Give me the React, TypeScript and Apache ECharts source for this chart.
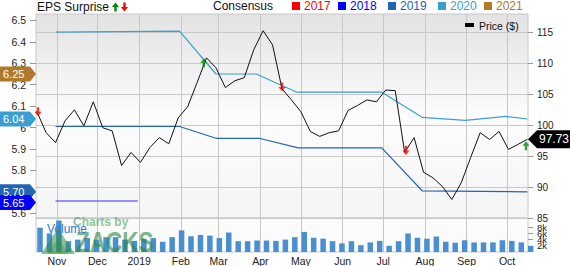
import React, { useEffect, useRef } from 'react';
import * as echarts from 'echarts';

const FONT = 'Liberation Sans, Arial, sans-serif';

// weekly observations (Wednesday closes) Oct 17 2018 .. Oct 16 2019
const weekDates = Array.from({ length: 53 }, (_, i) => Date.UTC(2018, 9, 17 + 7 * i));
const price = [
  102.3, 98.8, 97.2, 100.7, 102.5, 99.9, 103.8, 99.6, 99.1, 93.5,
  95.6, 94.0, 96.4, 98.0, 97.0, 101.2, 103.0, 106.9, 110.9, 109.3,
  106.1, 107.2, 107.7, 112.2, 115.3, 113.0, 105.9, 104.1, 102.2, 99.0,
  98.2, 98.8, 99.1, 102.4, 103.2, 104.1, 103.8, 105.7, 105.6, 95.6,
  98.0, 92.4, 91.5, 90.1, 88.0, 90.7, 94.8, 98.8, 97.7, 99.0,
  96.1, 96.9, 97.73,
];
// weekly volume (thousands)
const volumeK = [
  7.85, 6.0, 10.2, 3.5, 4.0, 4.5, 4.0, 4.8, 4.8, 4.0,
  3.6, 4.3, 4.5, 3.3, 4.8, 7.0, 5.1, 5.5, 5.3, 4.5,
  6.3, 3.5, 3.5, 3.7, 3.7, 3.6, 4.0, 4.8, 6.5, 4.6,
  4.3, 3.5, 2.8, 3.5, 2.2, 3.1, 3.6, 2.0, 3.5, 6.0,
  4.6, 4.3, 5.0, 3.3, 3.0, 3.8, 3.1, 3.1, 3.1, 3.8,
  3.6, 3.1, 2.0,
];

const cons2020Dates = ['2018-10-31', '2019-01-31', '2019-02-27', '2019-03-29', '2019-04-28', '2019-06-30', '2019-07-30', '2019-08-31', '2019-09-30', '2019-10-16'];
const cons2020 = [6.445, 6.45, 6.25, 6.25, 6.165, 6.165, 6.048, 6.034, 6.052, 6.04];
const cons2019Dates = ['2018-10-31', '2019-01-31', '2019-02-27', '2019-03-31', '2019-04-29', '2019-06-30', '2019-07-30', '2019-10-16'];
const cons2019 = [6.005, 6.005, 5.95, 5.95, 5.905, 5.905, 5.705, 5.70];
const cons2018Dates = ['2018-10-31', '2018-12-31'];
const cons2018 = [5.657, 5.657];

const surpriseDates = ['2018-10-18', '2019-02-18', '2019-04-17', '2019-07-18', '2019-10-15'];
const surpriseAt = [102.2, 110.1, 106.2, 95.9, 96.7];
const surpriseDir = ['down', 'up', 'down', 'down', 'up'];

const currentYears = ['2021', '2020', '2019', '2018'];
const currentValues = [6.25, 6.04, 5.70, 5.65];
const lastPrice = 97.73;

const legendYears = ['2017', '2018', '2019', '2020', '2021'];
const yearColors = ['#ff0000', '#0000ff', '#2266b3', '#3a9fd0', '#b07a2a'];

const monthTicks = [
  Date.UTC(2018, 10, 1), Date.UTC(2018, 11, 1), Date.UTC(2019, 0, 1), Date.UTC(2019, 1, 1),
  Date.UTC(2019, 2, 1), Date.UTC(2019, 3, 1), Date.UTC(2019, 4, 1), Date.UTC(2019, 5, 1),
  Date.UTC(2019, 6, 1), Date.UTC(2019, 7, 1), Date.UTC(2019, 8, 1), Date.UTC(2019, 9, 1),
];
const monthLabels = ['Nov', 'Dec', '2019', 'Feb', 'Mar', 'Apr', 'May', 'Jun', 'Jul', 'Aug', 'Sep', 'Oct'];
const priceTicks = [85, 90, 95, 100, 105, 110, 115];
const epsTicks = [5.6, 5.7, 5.8, 5.9, 6.0, 6.1, 6.2, 6.3, 6.4, 6.5];
const volTicks = [0, 2000, 4000, 6000, 8000, 10000];

const X_MIN = Date.UTC(2018, 9, 16, 12);
const X_MAX = Date.UTC(2019, 9, 16, 12);
const DAY = 86400000;

const UP = 'path://M3.5,0L7,4.5L4.7,4.5L4.7,9L2.3,9L2.3,4.5L0,4.5Z';
const DOWN = 'path://M2.3,0L4.7,0L4.7,4.5L7,4.5L3.5,9L0,4.5L2.3,4.5Z';

const toPts = (dates: string[], vals: number[]) => dates.map((d, i) => [Date.parse(d), vals[i]]);

const upArrow = (x: number, y: number, fill: string) => ({
  type: 'polygon', z: 100,
  shape: { points: [[x + 3.5, y], [x + 7, y + 4.5], [x + 4.7, y + 4.5], [x + 4.7, y + 9], [x + 2.3, y + 9], [x + 2.3, y + 4.5], [x, y + 4.5]] },
  style: { fill },
});
const downArrow = (x: number, y: number, fill: string) => ({
  type: 'polygon', z: 100,
  shape: { points: [[x + 2.3, y], [x + 4.7, y], [x + 4.7, y + 4.5], [x + 7, y + 4.5], [x + 3.5, y + 9], [x, y + 4.5], [x + 2.3, y + 4.5]] },
  style: { fill },
});

export default function App() {
  const ref = useRef<HTMLDivElement>(null);
  useEffect(() => {
    document.body.style.margin = '0';
    const chart = echarts.init(ref.current!, null, { renderer: 'svg', width: 570, height: 266 });
    const splitLine = { show: true, lineStyle: { color: '#c8c8c8', width: 1 } };
    const option: any = {
      animation: false,
      textStyle: { fontFamily: FONT },
      grid: [
        {
          left: 36, top: 14, width: 492, height: 204, show: true,
          backgroundColor: new echarts.graphic.LinearGradient(0, 0, 0, 1, [
            { offset: 0, color: '#e3e3e3' },
            { offset: 0.5, color: '#fcfcfc' },
            { offset: 1, color: '#f5f5f5' },
          ]),
          borderColor: '#c8c8c8', borderWidth: 1,
        },
        { left: 36, top: 218, width: 492, height: 36, show: true, backgroundColor: '#fbfbfb', borderColor: '#c8c8c8', borderWidth: 1 },
      ],
      xAxis: [
        {
          type: 'value', gridIndex: 0, min: X_MIN, max: X_MAX,
          axisLine: { show: false }, axisTick: { show: false, customValues: monthTicks },
          axisLabel: { show: false, customValues: monthTicks }, splitLine,
        },
        {
          type: 'value', gridIndex: 1, min: X_MIN, max: X_MAX,
          axisLine: { show: false }, axisTick: { show: false, customValues: monthTicks },
          axisLabel: {
            customValues: monthTicks, fontSize: 10.5, color: '#222', margin: 3, fontFamily: FONT,
            formatter: (v: number) => monthLabels[monthTicks.indexOf(v)] ?? '',
          },
          splitLine,
        },
      ],
      yAxis: [
        {
          type: 'value', gridIndex: 0, position: 'right', min: 85, max: 118,
          axisLine: { show: false },
          axisTick: { show: true, length: 5, customValues: priceTicks, lineStyle: { color: '#999' } },
          axisLabel: { customValues: priceTicks, fontSize: 10, color: '#222', margin: 9, fontFamily: FONT },
          splitLine,
        },
        {
          type: 'value', gridIndex: 0, position: 'left', min: 5.578, max: 6.53,
          axisLine: { show: false },
          axisTick: { show: true, length: 6, customValues: epsTicks, lineStyle: { color: '#999' } },
          axisLabel: { customValues: epsTicks, fontSize: 10.5, color: '#222', margin: 10, fontFamily: FONT },
          splitLine: { show: false },
        },
        {
          type: 'value', gridIndex: 1, position: 'right', min: 0, max: 11000,
          axisLine: { show: false },
          axisTick: { show: true, length: 5, customValues: volTicks, lineStyle: { color: '#999' } },
          axisLabel: {
            customValues: volTicks, fontSize: 9.5, color: '#222', margin: 9, fontFamily: FONT,
            formatter: (v: number) => (v === 0 ? '0' : v / 1000 + 'k'),
          },
          splitLine: { show: false },
        },
      ],
      series: [
        {
          type: 'bar', xAxisIndex: 1, yAxisIndex: 2, barWidth: 5.5,
          itemStyle: { color: '#4a8fd0' },
          data: weekDates.map((d, i) => [d + 2.5 * DAY, volumeK[i] * 1000]),
        },
        {
          type: 'line', xAxisIndex: 0, yAxisIndex: 1, showSymbol: false, z: 3,
          lineStyle: { color: '#7070f0', width: 1.6 },
          data: toPts(cons2018Dates, cons2018),
        },
        {
          type: 'line', xAxisIndex: 0, yAxisIndex: 1, showSymbol: false, z: 3,
          lineStyle: { color: '#2266b3', width: 1.2 },
          data: toPts(cons2019Dates, cons2019),
        },
        {
          type: 'line', xAxisIndex: 0, yAxisIndex: 1, showSymbol: false, z: 3,
          lineStyle: { color: '#3a9fd0', width: 1.2 },
          data: toPts(cons2020Dates, cons2020),
        },
        {
          type: 'line', xAxisIndex: 0, yAxisIndex: 0, showSymbol: false, z: 4,
          lineStyle: { color: '#111', width: 1 },
          data: weekDates.map((d, i) => [d, price[i]]),
        },
        {
          type: 'scatter', xAxisIndex: 0, yAxisIndex: 0, z: 6, symbolSize: [7, 9],
          data: surpriseDates.map((d, i) => ({
            value: [Date.parse(d), surpriseAt[i]],
            symbol: surpriseDir[i] === 'up' ? UP : DOWN,
            itemStyle: { color: surpriseDir[i] === 'up' ? '#008a00' : '#ff0000' },
          })),
        },
      ],
    };
    chart.setOption(option);

    const yp = (v: number, idx: number) => chart.convertToPixel({ yAxisIndex: idx } as any, v) as unknown as number;
    const graphics: any[] = [];

    // header
    graphics.push({ type: 'text', x: 37, y: 7, z: 100, style: { text: 'EPS Surprise', fontSize: 12, fill: '#111', fontFamily: FONT, verticalAlign: 'middle' } });
    graphics.push(upArrow(112, 2.5, '#008a00'));
    graphics.push(downArrow(121, 2.5, '#ff0000'));
    graphics.push({ type: 'text', x: 213, y: 6, z: 100, style: { text: 'Consensus', fontSize: 12, fill: '#111', fontFamily: FONT, verticalAlign: 'middle' } });
    const legendX = [292, 338, 388, 438, 484];
    legendYears.forEach((yr, i) => {
      graphics.push({ type: 'rect', z: 100, shape: { x: legendX[i], y: 2, width: 8, height: 8 }, style: { fill: yearColors[i] } });
      graphics.push({ type: 'text', x: legendX[i] + 12, y: 6, z: 100, style: { text: yr, fontSize: 12, fill: yearColors[i], fontFamily: FONT, verticalAlign: 'middle' } });
    });
    graphics.push({ type: 'rect', z: 100, shape: { x: 465, y: 23, width: 9, height: 4 }, style: { fill: '#000' } });
    graphics.push({ type: 'text', x: 479, y: 26, z: 100, style: { text: 'Price ($)', fontSize: 10.5, fill: '#111', fontFamily: FONT, verticalAlign: 'middle' } });

    // watermark
    graphics.push({ type: 'polygon', z: 90, shape: { points: [[41, 254], [58, 228], [75, 254]] }, style: { fill: 'rgba(40,140,60,0.5)' } });
    graphics.push({ type: 'polygon', z: 90, shape: { points: [[47, 254], [58, 238], [69, 254]] }, style: { fill: 'rgba(40,140,60,0.35)' } });
    graphics.push({ type: 'text', x: 76, y: 242, z: 90, scaleX: 0.75, style: { text: 'ZACKS', fontSize: 30, fontWeight: 'bold', fill: 'rgba(40,135,65,0.6)', fontFamily: FONT, verticalAlign: 'middle' } });
    graphics.push({ type: 'text', x: 73, y: 222, z: 90, style: { text: 'Charts by', fontSize: 12, fontWeight: 'bold', fill: 'rgba(60,160,90,0.6)', fontFamily: FONT, verticalAlign: 'middle' } });
    graphics.push({ type: 'text', x: 47, y: 229, z: 95, style: { text: 'Volume', fontSize: 12, fill: '#2a80d0', fontFamily: FONT, verticalAlign: 'middle' } });

    // left consensus tags
    currentYears.forEach((yr, i) => {
      const color = yearColors[legendYears.indexOf(yr)];
      const y = yp(currentValues[i], 1);
      graphics.push({
        type: 'group', z: 110,
        children: [
          { type: 'polygon', z: 110, shape: { points: [[0, y - 7.5], [30, y - 7.5], [36, y], [30, y + 7.5], [0, y + 7.5]] }, style: { fill: color } },
          { type: 'text', z: 111, x: 3, y, style: { text: currentValues[i].toFixed(2), fontSize: 11, fill: '#fff', fontFamily: FONT, verticalAlign: 'middle' } },
        ],
      });
    });
    // right price tag
    const py = yp(lastPrice, 0);
    graphics.push({
      type: 'group', z: 110,
      children: [
        { type: 'polygon', z: 110, shape: { points: [[528, py], [537, py - 9], [570, py - 9], [570, py + 9], [537, py + 9]] }, style: { fill: '#000' } },
        { type: 'text', z: 111, x: 539, y: py, style: { text: lastPrice.toFixed(2), fontSize: 12, fill: '#fff', fontFamily: FONT, verticalAlign: 'middle' } },
      ],
    });

    chart.setOption({ graphic: graphics });
    return () => chart.dispose();
  }, []);
  return <div ref={ref} style={{ width: 570, height: 266 }} />;
}
